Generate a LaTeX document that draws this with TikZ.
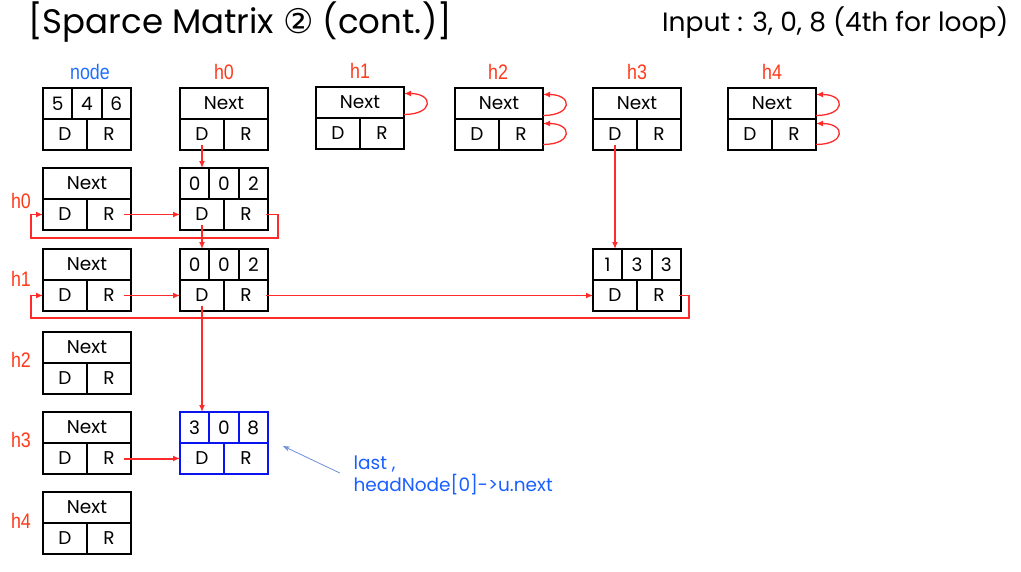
\documentclass[tikz,border=0pt]{standalone}
\usepackage{fontspec}
\setmainfont{Poppins}
\newfontfamily\labelfont[FakeStretch=0.85]{Liberation Sans}
\newfontfamily\symbolfont{DejaVu Sans}
\usetikzlibrary{arrows.meta,calc}

\definecolor{linkred}{HTML}{FF2B2B}
\definecolor{tagred}{HTML}{FF3A1A}
\definecolor{tagblue}{HTML}{1F6FFF}
\definecolor{newblue}{HTML}{0A14F0}
\definecolor{notetext}{HTML}{1A5FFF}
\definecolor{noteline}{HTML}{6F8FD8}

\tikzset{
  cell/.style={draw=#1, line width=2.2pt, inner sep=0pt, outer sep=0pt, minimum height=31pt,
    anchor=north west, font=\fontsize{18.5}{18.5}\selectfont},
  tag/.style={font=\labelfont\fontsize{21}{21}\selectfont},
  link/.style={draw=linkred, line width=1.3pt, -{Latex[length=7pt,width=6pt]}},
  boldlink/.style={link, line width=2pt},
  notearrow/.style={draw=noteline, line width=0.8pt, -{Stealth[length=7pt,width=5pt]}},
}

% head node: Next / D | R
\newcommand\headbox[3]{%
  \node[cell=black, minimum width=88pt] (#1-n) at (#2,#3) {Next};
  \node[cell=black, minimum width=44pt] (#1-d) at (#1-n.south west) {D};
  \node[cell=black, minimum width=44pt, anchor=north east] (#1-r) at (#1-n.south east) {R};
}
% entry node: row col value / D | R
\newcommand\elembox[7]{%
  \node[cell=#7, minimum width=29.33pt] (#1-a) at (#2,#3) {#4};
  \node[cell=#7, minimum width=29.33pt] (#1-b) at (#1-a.north east) {#5};
  \node[cell=#7, minimum width=29.33pt] (#1-c) at (#1-b.north east) {#6};
  \node[cell=#7, minimum width=44pt] (#1-d) at (#1-a.south west) {D};
  \node[cell=#7, minimum width=44pt, anchor=north east] (#1-r) at (#1-c.south east) {R};
}

\begin{document}
\begin{tikzpicture}[x=1pt,y=-1pt]
\useasboundingbox (0,0) rectangle (1021,571);

% headings
\node[anchor=west, font=\fontsize{34}{34}\selectfont] (title) at (25,22)
  {[Sparce Matrix {\symbolfont ②} (cont.)]};
\node[anchor=east, font=\fontsize{26.5}{26.5}\selectfont] (input) at (1012,23)
  {Input : 3, 0, 8 (4th for loop)};

% top row: matrix node and column heads
\elembox{top}{43}{88}{5}{4}{6}{black}
\headbox{top0}{180}{88}
\headbox{top1}{316}{87}
\headbox{top2}{455}{88}
\headbox{top3}{593}{88}
\headbox{top4}{728}{88}

\node[tag, text=tagblue] (tag-node) at (90,72) {node};
\node[tag, text=tagred] (tag-c0) at (224,72) {h0};
\node[tag, text=tagred] (tag-c1) at (360,71) {h1};
\node[tag, text=tagred] (tag-c2) at (498,72) {h2};
\node[tag, text=tagred] (tag-c3) at (637,72) {h3};
\node[tag, text=tagred] (tag-c4) at (772,72) {h4};

% left column: row heads
\headbox{l0}{43}{168}
\headbox{l1}{43}{249}
\headbox{l2}{43}{332}
\headbox{l3}{43}{412}
\headbox{l4}{43}{492}

\node[tag, text=tagred] (tag-r0) at (21,201) {h0};
\node[tag, text=tagred] (tag-r1) at (21,279) {h1};
\node[tag, text=tagred] (tag-r2) at (21,360) {h2};
\node[tag, text=tagred] (tag-r3) at (21,440) {h3};
\node[tag, text=tagred] (tag-r4) at (21,521) {h4};

% entries
\elembox{e1}{180}{168}{0}{0}{2}{black}
\elembox{e2}{180}{249}{0}{0}{2}{black}
\elembox{e3}{593}{249}{1}{3}{3}{black}
\elembox{e4}{180}{412}{3}{0}{8}{newblue}

% empty circular lists
\draw[link] ([yshift=-12pt]top1-n.east) to[out=0,in=0,distance=30pt] ([yshift=9pt]top1-n.east);
\draw[link] ([yshift=-12pt]top2-n.east) to[out=0,in=0,distance=30pt] ([yshift=9pt]top2-n.east);
\draw[link] ([yshift=-10pt]top2-r.east) to[out=0,in=0,distance=30pt] ([yshift=11pt]top2-r.east);
\draw[link] ([yshift=-12pt]top4-n.east) to[out=0,in=0,distance=30pt] ([yshift=9pt]top4-n.east);
\draw[link] ([yshift=-10pt]top4-r.east) to[out=0,in=0,distance=30pt] ([yshift=11pt]top4-r.east);

% column links
\draw[link] ([yshift=5pt]top0-d.south) -- (top0-d.south |- e1-a.north);
\draw[link] ([yshift=5pt]e1-d.south) -- (e1-d.south |- e2-a.north);
\draw[link] ([yshift=5pt]top3-d.south) -- (top3-d.south |- e3-a.north);
\draw[boldlink] ([yshift=5pt]e2-d.south) -- (e2-d.south |- e4-a.north);

% row links
\draw[link] ([xshift=15pt]l0-r.center) -- (e1-d.west);
\draw[link] ([xshift=20pt]e1-r.center) -| ($(e1-r.south east)+(10,8)$)
  -| ($(l0-d.west)+(-12,0)$) -- (l0-d.west);
\draw[link] ([xshift=15pt]l1-r.center) -- (e2-d.west);
\draw[link] ([xshift=20pt]e2-r.center) -- (e3-d.west);
\draw[link] ([xshift=20pt]e3-r.center) -| ($(e3-r.south east)+(8,7)$)
  -| ($(l1-d.west)+(-12,0)$) -- (l1-d.west);
\draw[boldlink] ([xshift=15pt]l3-r.center) -- (e4-d.west);

% note on the new entry
\node[anchor=north west, align=left, text=notetext,
  font=\fontsize{18.5}{22}\selectfont] (note) at (350,452)
  {last ,\\headNode[0]->u.next};
\coordinate (lastptr) at (283,446);
\draw[notearrow] ([xshift=-10pt,yshift=2pt]note.west) -- (lastptr);
\end{tikzpicture}
\end{document}
